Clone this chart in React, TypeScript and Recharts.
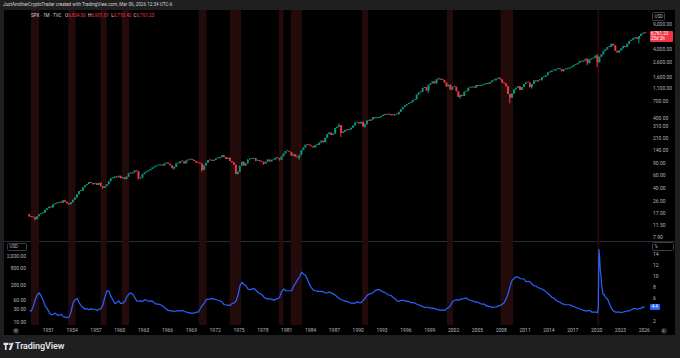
import React from 'react'
import { ComposedChart, Bar, Line, XAxis, YAxis, ReferenceArea, Cell } from 'recharts'

const FONT = 'Roboto, "Liberation Sans", sans-serif'
const AXIS_TEXT = '#b2b5be'
const UP = '#089981'
const DOWN = '#f23645'
const BAND = '#240b0b'

// visible time window (years)
const X_MIN = 1948.445
const X_MAX = 2026.84

// S&P 500 quarterly closes, 1948 Q3 .. 2026 Q1 (last = Mar 06 2026)
const SPX_START = 1948.5
const SPX_PREV_CLOSE = 16.74
const spxClose = [
  15.49, 15.2,
  15.06, 14.16, 15.58, 16.76,
  17.29, 17.69, 19.45, 20.41,
  21.48, 20.96, 23.26, 23.77,
  24.37, 24.96, 24.54, 26.57,
  25.29, 24.14, 23.35, 24.81,
  26.94, 29.21, 32.31, 35.98,
  36.58, 41.03, 43.67, 45.48,
  48.48, 46.97, 45.35, 46.67,
  44.11, 47.37, 42.42, 39.99,
  42.1, 45.24, 50.06, 55.21,
  55.44, 58.47, 56.88, 59.89,
  55.34, 56.92, 53.52, 58.11,
  65.06, 64.64, 66.73, 71.55,
  69.55, 54.75, 56.27, 63.1,
  66.57, 69.37, 71.7, 75.02,
  78.98, 81.69, 84.18, 84.75,
  86.16, 84.12, 89.96, 92.43,
  89.23, 84.74, 76.56, 80.33,
  90.2, 90.64, 96.71, 96.47,
  90.2, 99.58, 102.67, 103.86,
  101.51, 97.71, 93.12, 92.06,
  89.63, 72.72, 84.21, 92.15,
  100.31, 99.7, 98.34, 102.09,
  107.2, 107.14, 110.55, 118.05,
  111.52, 104.26, 108.43, 97.55,
  93.98, 86.0, 63.54, 68.56,
  83.36, 95.19, 83.87, 90.19,
  102.77, 104.28, 105.24, 107.46,
  98.42, 100.48, 96.53, 95.1,
  89.21, 95.53, 102.54, 96.11,
  101.59, 102.91, 109.32, 107.94,
  102.09, 114.24, 125.46, 135.76,
  136.0, 131.21, 116.18, 122.55,
  111.96, 109.61, 120.42, 140.64,
  152.96, 168.11, 166.07, 164.93,
  159.18, 153.18, 166.1, 167.24,
  180.66, 191.85, 182.08, 211.28,
  238.9, 250.84, 231.32, 242.17,
  291.7, 304.0, 321.83, 247.08,
  258.89, 273.5, 271.91, 277.72,
  294.87, 317.98, 349.15, 353.4,
  339.94, 358.02, 306.05, 330.22,
  375.22, 371.16, 387.86, 417.09,
  403.69, 408.14, 417.8, 435.71,
  451.67, 450.53, 458.93, 466.45,
  445.77, 444.27, 462.69, 459.27,
  500.71, 544.75, 584.41, 615.93,
  645.5, 670.63, 687.31, 740.74,
  757.12, 885.14, 947.28, 970.43,
  1101.75, 1133.84, 1017.01, 1229.23,
  1286.37, 1372.71, 1282.71, 1469.25,
  1498.58, 1454.6, 1436.51, 1320.28,
  1160.33, 1224.42, 1040.94, 1148.08,
  1147.39, 989.82, 815.28, 879.82,
  848.18, 974.5, 995.97, 1111.92,
  1126.21, 1140.84, 1114.58, 1211.92,
  1180.59, 1191.33, 1228.81, 1248.29,
  1294.83, 1270.2, 1335.85, 1418.3,
  1420.86, 1503.35, 1526.75, 1468.36,
  1322.7, 1280.0, 1166.36, 903.25,
  797.87, 919.32, 1057.08, 1115.1,
  1169.43, 1030.71, 1141.2, 1257.64,
  1325.83, 1320.64, 1131.42, 1257.6,
  1408.47, 1362.16, 1440.67, 1426.19,
  1569.19, 1606.28, 1681.55, 1848.36,
  1872.34, 1960.23, 1972.29, 2058.9,
  2067.89, 2063.11, 1920.03, 2043.94,
  2059.74, 2098.86, 2168.27, 2238.83,
  2362.72, 2423.41, 2519.36, 2673.61,
  2640.87, 2718.37, 2913.98, 2506.85,
  2834.4, 2941.76, 2976.74, 3230.78,
  2584.59, 3100.29, 3363.0, 3756.07,
  3972.89, 4297.5, 4307.54, 4766.18,
  4530.41, 3785.38, 3585.62, 3839.5,
  4109.31, 4450.38, 4288.05, 4769.83,
  5254.35, 5460.48, 5762.48, 5881.63,
  5611.85, 6204.95, 6688.46, 6845.5,
  6761.23,
]

// intra-quarter extremes where the wick is clearly visible
const wickLowQuarter = ['1949Q2', '1953Q3', '1957Q4', '1962Q2', '1966Q4', '1970Q2', '1974Q4', '1978Q1', '1980Q1', '1982Q3', '1987Q4', '1990Q4', '1998Q4', '2002Q4', '2009Q1', '2011Q4', '2018Q4', '2020Q1', '2022Q4', '2025Q2']
const wickLowValue = [13.55, 22.71, 38.98, 52.32, 73.2, 68.61, 62.28, 86.45, 98.22, 102.2, 216.46, 294.51, 923.32, 768.63, 666.79, 1074.77, 2346.58, 2191.86, 3491.58, 4835.04]
const wickHighQuarter = ['1987Q3', '2000Q1', '2007Q4', '2020Q1', '2022Q1', '2026Q1']
const wickHighValue = [337.89, 1552.87, 1576.09, 3393.52, 4818.62, 6986.0]

const priceTicks = [9000, 4000, 2600, 1600, 1100, 700, 400, 310, 210, 140, 90, 60, 40, 26, 17, 11.5, 7.9]

// US unemployment rate (%), quarterly 1948 Q3 .. 2019 Q4
const UR_START = 1948.5
const urQuarterly = [
  3.8, 3.8,
  4.7, 5.9, 6.7, 7.0,
  6.4, 5.6, 4.6, 4.2,
  3.5, 3.1, 3.2, 3.4,
  3.1, 3.0, 3.2, 2.8,
  2.7, 2.6, 2.7, 3.7,
  5.3, 5.8, 6.0, 5.3,
  4.7, 4.4, 4.1, 4.2,
  4.0, 4.2, 4.1, 4.1,
  3.9, 4.1, 4.2, 4.9,
  6.3, 7.4, 7.3, 6.4,
  5.8, 5.1, 5.3, 5.6,
  5.1, 5.2, 5.5, 6.3,
  6.8, 7.0, 6.8, 6.2,
  5.6, 5.5, 5.6, 5.5,
  5.8, 5.7, 5.5, 5.6,
  5.5, 5.2, 5.0, 5.0,
  4.9, 4.7, 4.4, 4.1,
  3.9, 3.8, 3.8, 3.7,
  3.8, 3.8, 3.8, 3.9,
  3.7, 3.6, 3.5, 3.4,
  3.4, 3.4, 3.6, 3.6,
  4.2, 4.8, 5.2, 5.8,
  5.9, 5.9, 6.0, 5.9,
  5.8, 5.7, 5.6, 5.4,
  4.9, 4.9, 4.8, 4.8,
  5.1, 5.2, 5.6, 6.6,
  8.3, 8.9, 8.5, 8.3,
  7.7, 7.6, 7.7, 7.8,
  7.5, 7.1, 6.9, 6.7,
  6.3, 6.0, 6.0, 5.9,
  5.9, 5.7, 5.9, 6.0,
  6.3, 7.3, 7.7, 7.4,
  7.4, 7.4, 7.4, 8.2,
  8.8, 9.4, 9.9, 10.7,
  10.4, 10.1, 9.4, 8.5,
  7.9, 7.5, 7.4, 7.3,
  7.3, 7.3, 7.2, 7.0,
  7.0, 7.2, 7.0, 6.8,
  6.6, 6.3, 6.0, 5.8,
  5.7, 5.5, 5.5, 5.3,
  5.2, 5.2, 5.2, 5.4,
  5.3, 5.3, 5.7, 6.1,
  6.6, 6.8, 6.9, 7.1,
  7.4, 7.6, 7.6, 7.4,
  7.2, 7.1, 6.8, 6.6,
  6.6, 6.2, 6.0, 5.6,
  5.5, 5.7, 5.7, 5.6,
  5.5, 5.5, 5.3, 5.3,
  5.2, 5.0, 4.9, 4.7,
  4.6, 4.4, 4.5, 4.4,
  4.3, 4.3, 4.2, 4.1,
  4.0, 3.9, 4.0, 3.9,
  4.2, 4.4, 4.8, 5.5,
  5.7, 5.8, 5.7, 5.9,
  5.9, 6.1, 6.1, 5.8,
  5.7, 5.6, 5.4, 5.4,
  5.3, 5.1, 5.0, 5.0,
  4.7, 4.6, 4.6, 4.4,
  4.5, 4.5, 4.7, 4.8,
  5.0, 5.3, 6.0, 6.9,
  8.3, 9.3, 9.6, 9.9,
  9.8, 9.6, 9.5, 9.5,
  9.0, 9.1, 9.0, 8.6,
  8.3, 8.2, 8.0, 7.8,
  7.7, 7.5, 7.2, 6.9,
  6.6, 6.2, 6.1, 5.7,
  5.5, 5.4, 5.1, 5.0,
  4.9, 4.9, 4.9, 4.7,
  4.6, 4.4, 4.3, 4.2,
  4.0, 3.9, 3.8, 3.8,
  3.9, 3.6, 3.6, 3.6,
]
// monthly through the 2020 spike
const ur2020 = [3.6, 3.5, 4.4, 14.8, 13.2, 11.0, 10.2, 8.4, 7.8, 6.8, 6.7, 6.7]
// quarterly 2021 Q1 .. 2025 Q4
const urLate = [6.2, 5.9, 5.1, 4.2, 3.8, 3.6, 3.6, 3.6, 3.5, 3.6, 3.7, 3.8, 3.8, 4.0, 4.2, 4.2, 4.1, 4.2, 4.3, 4.5]
const urLast = 4.4 // Jan 2026

// NBER recessions (decimal years)
const recessionStart = [1948.83, 1953.5, 1957.58, 1960.25, 1969.92, 1973.83, 1980.0, 1981.5, 1990.5, 2001.17, 2007.92, 2020.08]
const recessionEnd = [1949.83, 1954.42, 1958.33, 1961.17, 1970.92, 1975.25, 1980.58, 1982.92, 1991.25, 2001.92, 2009.5, 2020.33]

const yearTicks = [1951, 1954, 1957, 1960, 1963, 1966, 1969, 1972, 1975, 1978, 1981, 1984, 1987, 1990, 1993, 1996, 1999, 2002, 2005, 2008, 2011, 2014, 2017, 2020, 2023, 2026]
const usdTicks = [10, 30, 60, 200, 800, 2000]
const pctTicks = [2, 6, 8, 10, 12, 14]

const lowMap: Record<string, number> = {}
wickLowQuarter.forEach((q, i) => (lowMap[q] = wickLowValue[i]))
const highMap: Record<string, number> = {}
wickHighQuarter.forEach((q, i) => (highMap[q] = wickHighValue[i]))

const candles = spxClose.map((close, i) => {
  const open = i === 0 ? SPX_PREV_CLOSE : spxClose[i - 1]
  const start = SPX_START + i * 0.25
  const key = `${Math.floor(start)}Q${Math.round((start % 1) * 4) + 1}`
  const lo = Math.min(open, close)
  const hi = Math.max(open, close)
  return {
    t: start + 0.125,
    body: [lo, hi],
    wick: [lowMap[key] ?? lo, highMap[key] ?? hi],
    up: close >= open,
  }
})

const unrate = [
  ...urQuarterly.map((v, i) => ({ t: UR_START + i * 0.25 + 0.125, rate: v })),
  ...ur2020.map((v, i) => ({ t: 2020 + (i + 0.5) / 12, rate: v })),
  ...urLate.map((v, i) => ({ t: 2021 + i * 0.25 + 0.125, rate: v })),
  { t: 2026 + 0.5 / 12, rate: urLast },
]

const fmtPrice = (v: number) => v.toLocaleString('en-US', { minimumFractionDigits: 2, maximumFractionDigits: 2 })
const tickStyle = { fill: AXIS_TEXT, fontSize: 5, fontFamily: FONT }

const Box = ({ left, top, width, height, text }: { left: number; top: number; width: number; height: number; text: string }) => (
  <div
    style={{
      position: 'absolute', left, top, width, height, boxSizing: 'border-box',
      border: '1px solid #3a3d45', borderRadius: 1.5, color: AXIS_TEXT, fontSize: 4.5,
      lineHeight: `${height - 2}px`, paddingLeft: 2,
    }}
  >
    {text}
  </div>
)

export default function App() {
  return (
    <div style={{ position: 'fixed', left: 0, top: 0, width: 680, height: 358, background: '#1f1f1f', fontFamily: FONT, overflow: 'hidden' }}>
      {/* header */}
      <div style={{ position: 'absolute', left: 3, top: 2, fontSize: 4.6, lineHeight: '6px', color: '#d1d4dc', whiteSpace: 'nowrap' }}>
        JustAnotherCryptoTrader created with TradingView.com, Mar 06, 2026 12:34 UTC-6
      </div>

      {/* chart canvas */}
      <div style={{ position: 'absolute', left: 4, top: 10, width: 671, height: 325, background: '#000' }} />

      {/* price pane */}
      <div style={{ position: 'absolute', left: 0, top: 10 }}>
        <ComposedChart width={680} height={231} data={candles} margin={{ top: 0, right: 0, bottom: 0, left: 28 }}>
          <XAxis xAxisId="b" dataKey="t" type="number" domain={[X_MIN, X_MAX]} hide allowDataOverflow />
          <XAxis xAxisId="w" dataKey="t" type="number" domain={[X_MIN, X_MAX]} hide allowDataOverflow />
          <YAxis
            yAxisId="p" orientation="right" scale="log" domain={[6.87, 14660]} allowDataOverflow
            ticks={priceTicks} interval={0} width={29} tickSize={0} tickMargin={2}
            axisLine={false} tickLine={false} tick={tickStyle} tickFormatter={fmtPrice}
          />
          {recessionStart.map((s, i) => (
            <ReferenceArea key={i} xAxisId="b" yAxisId="p" x1={s} x2={recessionEnd[i]} fill={BAND} fillOpacity={1} stroke="none" ifOverflow="hidden" />
          ))}
          <Bar xAxisId="w" yAxisId="p" dataKey="wick" barSize={1} isAnimationActive={false}>
            {candles.map((c, i) => (
              <Cell key={i} fill={c.up ? UP : DOWN} />
            ))}
          </Bar>
          <Bar xAxisId="b" yAxisId="p" dataKey="body" barSize={2} minPointSize={1} isAnimationActive={false}>
            {candles.map((c, i) => (
              <Cell key={i} fill={c.up ? UP : DOWN} />
            ))}
          </Bar>
        </ComposedChart>
      </div>

      {/* legend */}
      <div style={{ position: 'absolute', left: 31, top: 12.5, fontSize: 4.6, lineHeight: '6px', color: '#d1d4dc', whiteSpace: 'nowrap' }}>
        SPX · 1M · TVC&nbsp;&nbsp;
        O<span style={{ color: DOWN }}>6,824.36</span>&nbsp;&nbsp;H<span style={{ color: DOWN }}>6,901.01</span>&nbsp;&nbsp;L
        <span style={{ color: DOWN }}>6,710.42</span>&nbsp;&nbsp;C<span style={{ color: DOWN }}>6,761.23</span>
      </div>

      {/* pane divider */}
      <div style={{ position: 'absolute', left: 4, top: 240.5, width: 671, height: 1, background: '#2a2c33' }} />

      {/* unemployment pane */}
      <div style={{ position: 'absolute', left: 0, top: 241 }}>
        <ComposedChart width={680} height={94} data={unrate} margin={{ top: 0, right: 0, bottom: 0, left: 0 }}>
          <XAxis
            dataKey="t" type="number" domain={[X_MIN, X_MAX]} allowDataOverflow ticks={yearTicks} interval={0}
            height={10} tickSize={0} tickMargin={3} axisLine={false} tickLine={false} tick={tickStyle}
          />
          <YAxis
            yAxisId="usd" orientation="left" scale="log" domain={[8.32, 7047]} allowDataOverflow
            ticks={usdTicks} interval={0} width={28} tickSize={0} tickMargin={2}
            axisLine={false} tickLine={false} tick={tickStyle} tickFormatter={fmtPrice}
          />
          <YAxis
            yAxisId="pct" orientation="right" domain={[1.286, 16.29]} allowDataOverflow
            ticks={pctTicks} interval={0} width={29} tickSize={0} tickMargin={2}
            axisLine={false} tickLine={false} tick={tickStyle}
          />
          {recessionStart.map((s, i) => (
            <ReferenceArea key={i} yAxisId="pct" x1={s} x2={recessionEnd[i]} fill={BAND} fillOpacity={1} stroke="none" ifOverflow="hidden" />
          ))}
          <Line yAxisId="pct" dataKey="rate" type="linear" stroke="#2962ff" strokeWidth={1.2} dot={false} isAnimationActive={false} />
        </ComposedChart>
      </div>

      {/* axis boxes and last-value badges */}
      <Box left={651.5} top={11.5} width={13} height={9} text="USD" />
      <Box left={651.5} top={241.5} width={22.5} height={9} text="%" />
      <Box left={6.5} top={242.5} width={20} height={8} text="USD" />
      <div style={{ position: 'absolute', left: 649.5, top: 30.5, width: 23, height: 11.5, background: DOWN, borderRadius: 1, color: '#fff', fontSize: 4.5, lineHeight: '5.2px', paddingLeft: 1.5, boxSizing: 'border-box', paddingTop: 0.5 }}>
        6,761.23<br />25d 2h
      </div>
      <div style={{ position: 'absolute', left: 650, top: 304, width: 9.5, height: 6, background: '#2962ff', borderRadius: 1, color: '#fff', fontSize: 4.5, lineHeight: '6px', textAlign: 'center' }}>
        4.4
      </div>

      {/* small axis buttons */}
      <div style={{ position: 'absolute', left: 13, top: 327.5, width: 6, height: 6, borderRadius: 3, background: '#2a2c33', color: AXIS_TEXT, fontSize: 3.5, lineHeight: '6px', textAlign: 'center' }}>⚙</div>
      <div style={{ position: 'absolute', left: 660.5, top: 327.5, width: 6, height: 6, borderRadius: 3, background: '#2a2c33', color: AXIS_TEXT, fontSize: 3.5, lineHeight: '6px', textAlign: 'center' }}>A</div>

      {/* footer logo */}
      <svg style={{ position: 'absolute', left: 3, top: 342 }} width={11} height={8}>
        <path d="M0.5 0.8h4.6v2.1H3.6v5H1.9v-5H0.5z" fill="#e0e3eb" />
        <circle cx={6.6} cy={1.9} r={1.1} fill="#e0e3eb" />
        <path d="M8.4 0.8h2.3L8 7.9H5.7z" fill="#e0e3eb" />
      </svg>
      <div style={{ position: 'absolute', left: 15, top: 340.5, fontSize: 9, lineHeight: '11px', fontWeight: 600, color: '#e0e3eb', letterSpacing: -0.1 }}>
        TradingView
      </div>
    </div>
  )
}
